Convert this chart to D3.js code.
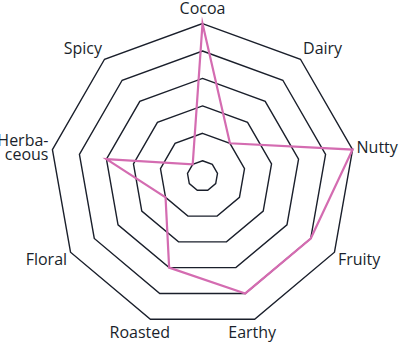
<!DOCTYPE html>
<html>
<head>
<meta charset="utf-8">
<script src="https://cdn.jsdelivr.net/npm/d3@7"></script>
<style>
  html, body { margin: 0; padding: 0; background: #fff; }
  svg { display: block; }
</style>
</head>
<body>
<svg id="chart" width="400" height="345"></svg>
<script>
// ---- data ----
const categories = ["Cocoa", "Dairy", "Nutty", "Fruity", "Earthy", "Roasted", "Floral", "Herbaceous", "Spicy"];
const labelLines = [["Cocoa"], ["Dairy"], ["Nutty"], ["Fruity"], ["Earthy"], ["Roasted"], ["Floral"], ["Herba-", "ceous"], ["Spicy"]];
const values = [5, 1, 5, 4, 4, 3, 1, 3, 0];
const levels = [0, 1, 2, 3, 4, 5];

// ---- layout ----
const cx = 202.5, cy = 176, R = 152.4;
const n = categories.length;
const gridColor = "#1a1f2b";
const lineColor = "#d46cb1";
const textColor = "#1a1f2b";

const svg = d3.select("#chart");
const g = svg.append("g").attr("transform", `translate(${cx},${cy})`);

const angle = d3.scalePoint().domain(d3.range(n + 1)).range([0, 2 * Math.PI]);
const rScale = d3.scaleLinear().domain([0, 5]).range([R * 0.1, R]);

const radial = d3.lineRadial()
  .angle((d, i) => angle(i % n))
  .radius(d => rScale(d))
  .curve(d3.curveLinearClosed);

// grid rings
g.selectAll("path.ring")
  .data(levels)
  .join("path")
  .attr("class", "ring")
  .attr("d", lv => radial(d3.range(n).map(() => lv)))
  .attr("fill", "none")
  .attr("stroke", gridColor)
  .attr("stroke-width", 1.4)
  .attr("stroke-linejoin", "miter");

// data line
g.append("path")
  .datum(values)
  .attr("d", radial)
  .attr("fill", "none")
  .attr("stroke", lineColor)
  .attr("stroke-width", 2.2)
  .attr("stroke-linejoin", "miter")
  .attr("stroke-miterlimit", 20);

// labels
const nudgeX = { "Earthy": -4, "Roasted": -9 };
const nudgeY = { "Cocoa": -1.8 };
g.selectAll("text.lab")
  .data(categories)
  .join("text")
  .attr("class", "lab")
  .attr("font-family", "'Open Sans', sans-serif")
  .attr("font-size", 16)
  .attr("fill", textColor)
  .each(function(d, i) {
    const a = angle(i);
    const s = Math.sin(a), c = Math.cos(a);
    let anchor = "middle";
    if (s > 0.5) anchor = "start";
    else if (s < -0.5) anchor = "end";
    const x = (anchor === "middle" ? rScale(5) * 1.03 : rScale(5) + 4) * s + (nudgeX[d] || 0);
    const y = -(rScale(5) + 14) * c + (nudgeY[d] || 0);
    const lines = labelLines[i];
    const lh = 14;
    const t = d3.select(this).attr("text-anchor", anchor);
    lines.forEach((ln, j) => {
      t.append("tspan")
        .attr("x", x)
        .attr("y", y + 5.7 + (j - (lines.length - 1) / 2) * lh)
        .text(ln);
    });
  });
</script>
</body>
</html>
